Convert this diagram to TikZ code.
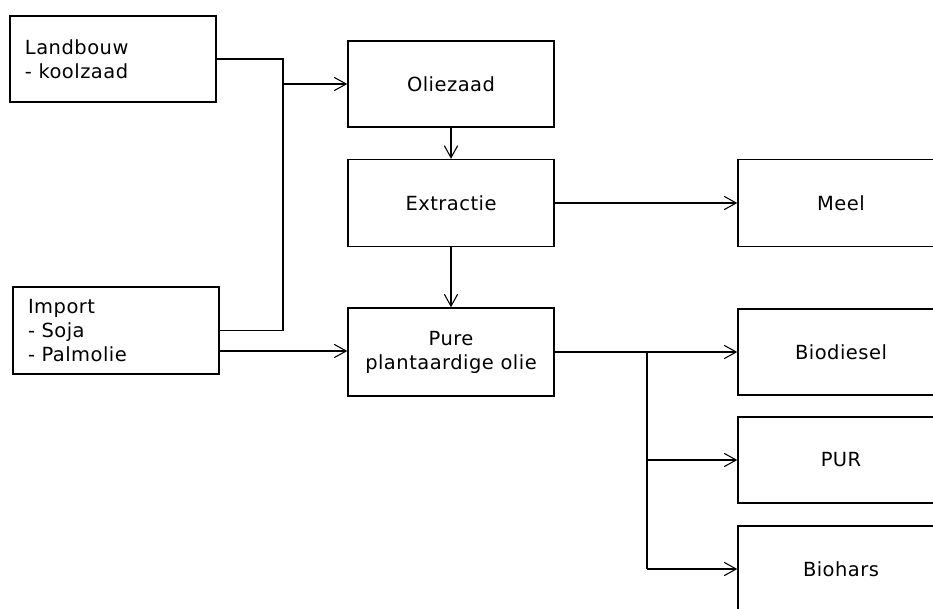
\documentclass[tikz,border=0pt]{standalone}
\usepackage{fontspec}
\setmainfont{DejaVu Sans}[LetterSpace=2.5]
\usetikzlibrary{arrows.meta}
\begin{document}
\begin{tikzpicture}[x=0.75pt, y=-0.75pt,
  every node/.style={font=\fontsize{14.6pt}{18pt}\selectfont},
  box/.style={draw, line width=1.1pt, rectangle, minimum width=154.5pt,
    minimum height=64.5pt, inner sep=0pt, align=center},
  srcbox/.style={box, text width=132pt, inner xsep=11.25pt, align=left},
  link/.style={line width=0.8pt},
  flow/.style={link, -{Straight Barb[length=9pt, width=10pt, line width=0.8pt]}}]
  \useasboundingbox (0,0) rectangle (933,608);
  \clip (0,0) rectangle (933,608);

  % sources
  \node[srcbox] (land) at (113,59) {Landbouw\\- koolzaad};
  \node[srcbox, minimum height=65.25pt] (imp) at (116,330.5) {Import\\- Soja\\- Palmolie};

  % processing chain
  \node[box] (olie) at (451,84) {Oliezaad};
  \node[box, minimum height=65.25pt] (extr) at (451,203) {Extractie};
  \node[box, minimum height=66pt] (pure) at (451,352) {Pure\\plantaardige olie};

  % products
  \node[box, minimum height=65.25pt] (meel) at (841,203) {Meel};
  \node[box] (bdsl) at (841,352) {Biodiesel};
  \node[box] (pur) at (841,460) {PUR};
  \node[box] (bhrs) at (841,569) {Biohars};

  % junctions
  \coordinate (jin) at (283,84);
  \coordinate (jout) at (647,352);

  % feed lines
  \draw[link] (land.east) -| (jin) -- (jin |- imp.east) -- (imp.east);
  \draw[flow] (jin) -- (olie.west);
  \draw[flow] (imp.east |- 0,351) -- (pure.west |- 0,351);

  % chain
  \draw[flow] (olie.south) -- (extr.north);
  \draw[flow] (extr.south) -- (pure.north);
  \draw[flow] (extr.east) -- (meel.west);

  % distribution of the oil
  \draw[link] (pure.east) -- (jout) -- (jout |- bhrs.west);
  \draw[flow] (jout) -- (bdsl.west);
  \draw[flow] (jout |- pur.west) -- (pur.west);
  \draw[flow] (jout |- bhrs.west) -- (bhrs.west);
\end{tikzpicture}
\end{document}
